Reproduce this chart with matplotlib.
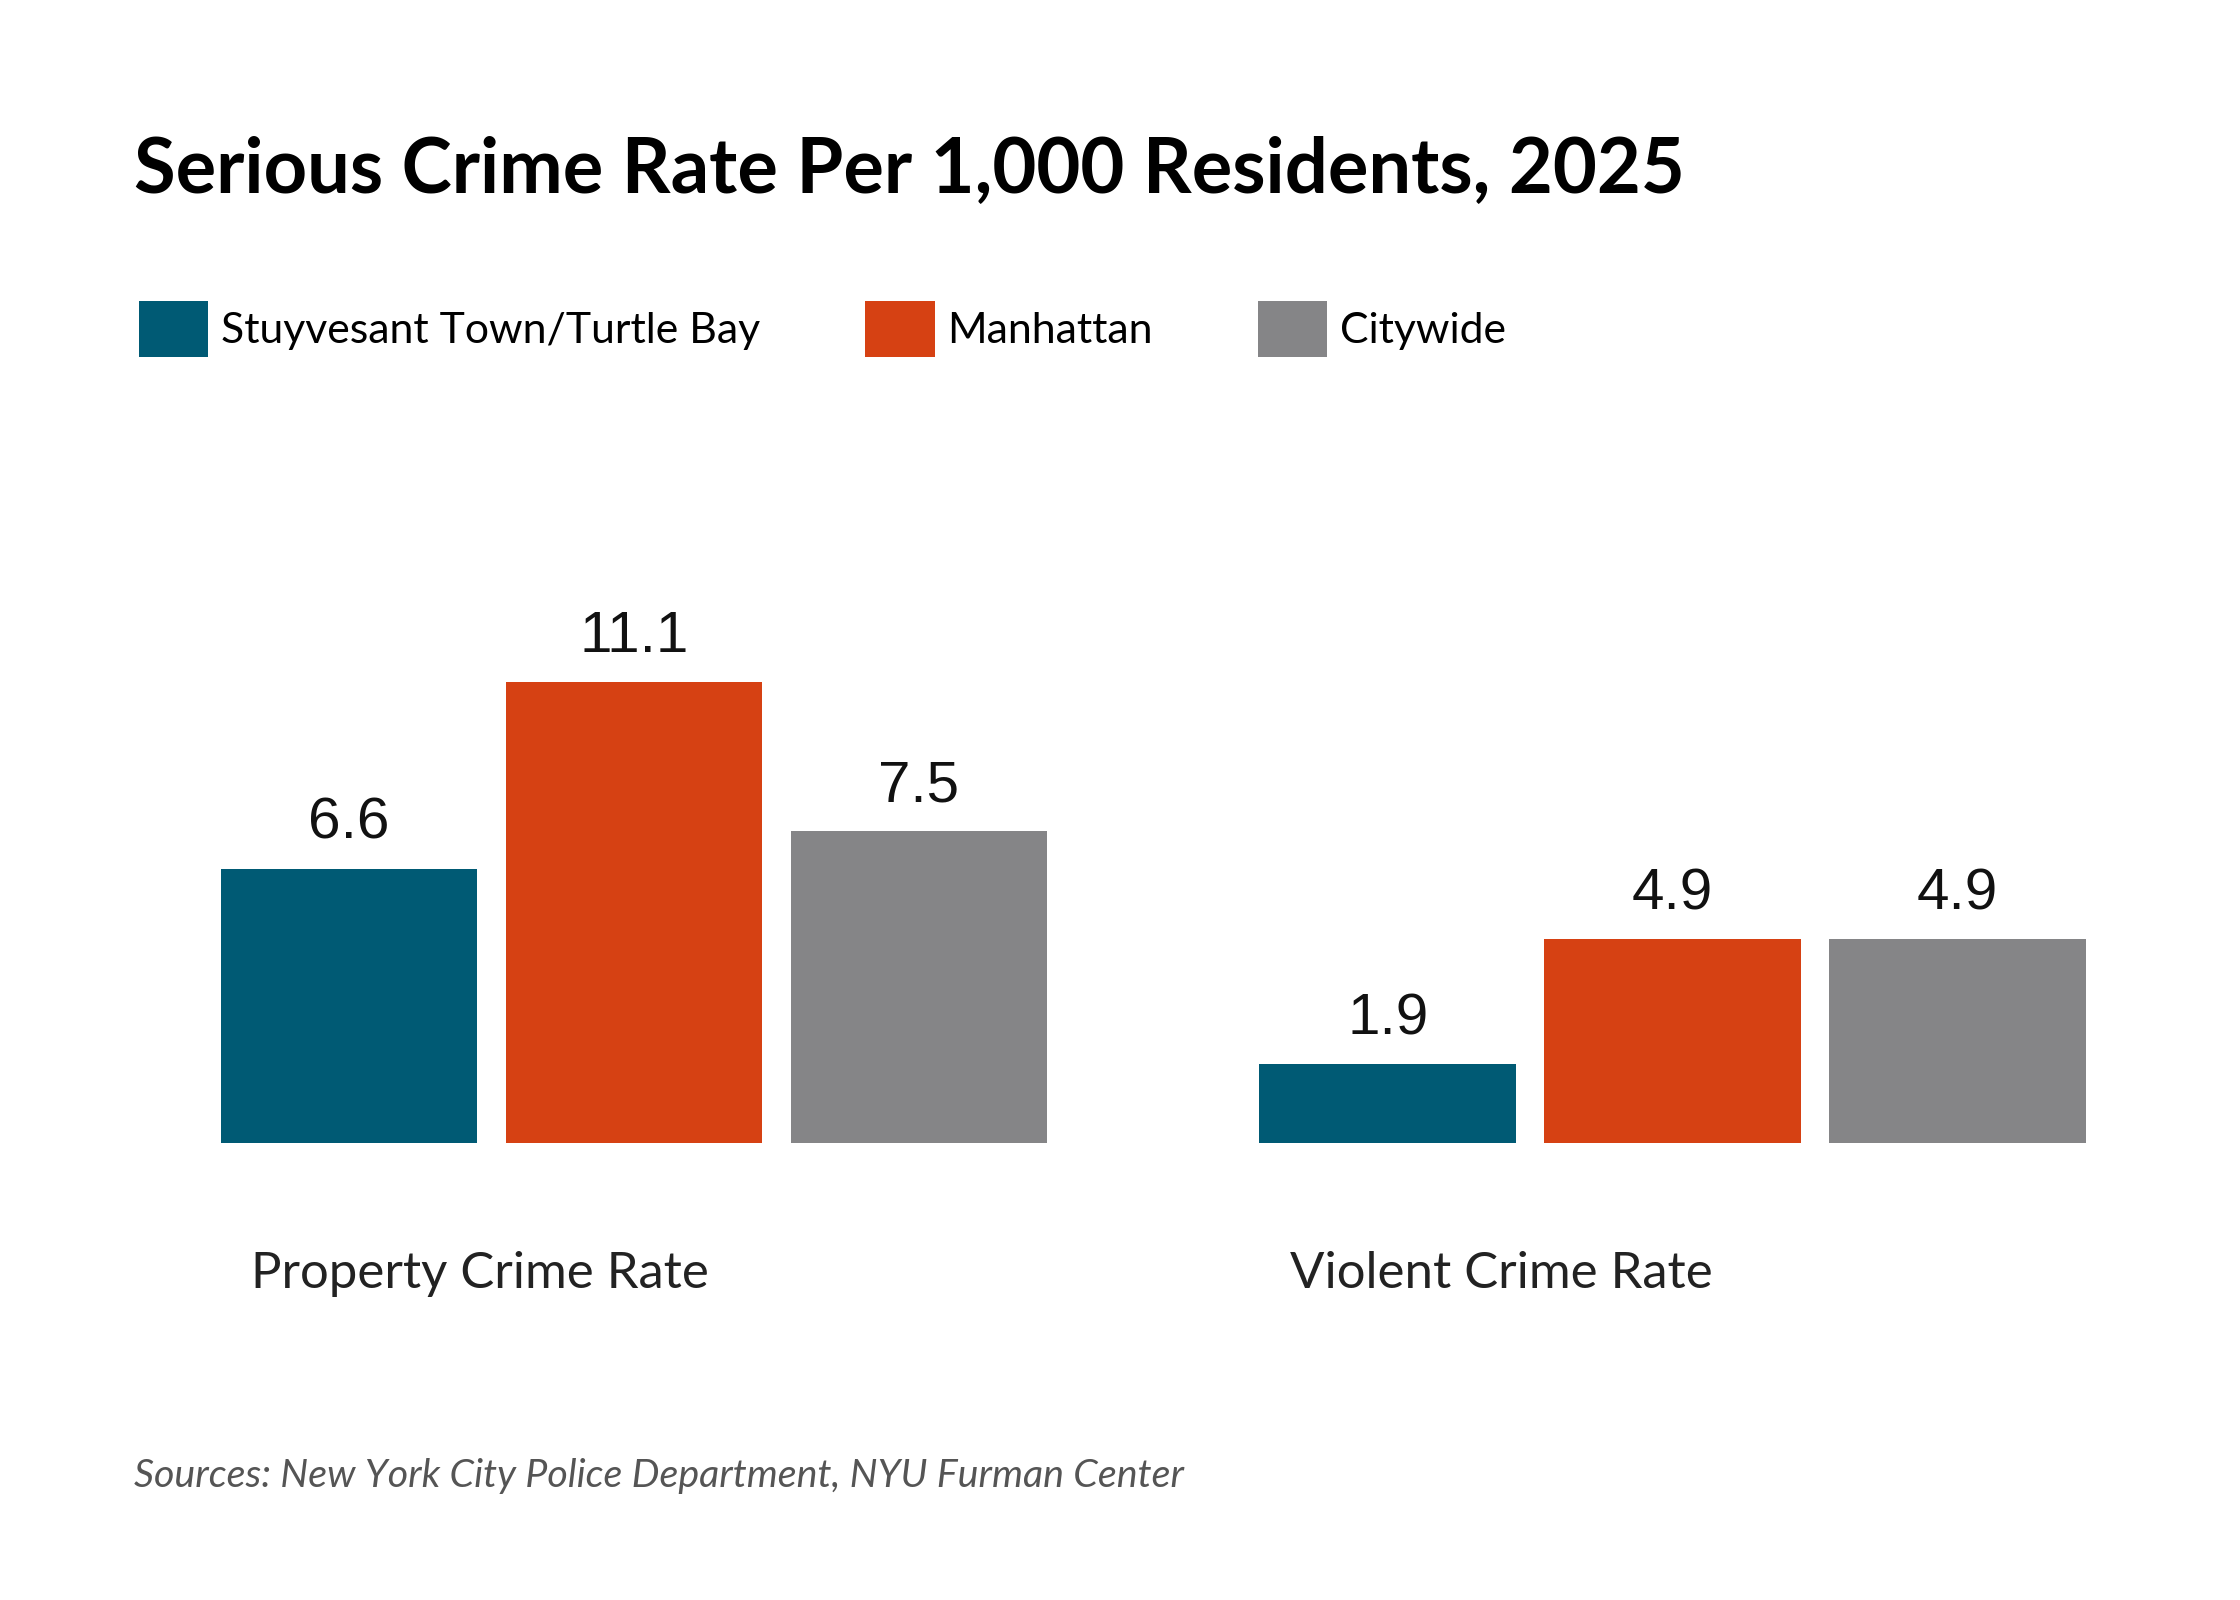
import numpy as np
import matplotlib
matplotlib.use("Agg")
import matplotlib.pyplot as plt

categories = ["Property Crime Rate", "Violent Crime Rate"]
series = ["Stuyvesant Town/Turtle Bay", "Manhattan", "Citywide"]
values = {
    "Stuyvesant Town/Turtle Bay": [6.6, 1.9],
    "Manhattan": [11.1, 4.9],
    "Citywide": [7.5, 4.9],
}
colors = ["#005a74", "#d64113", "#858587"]

title = "Serious Crime Rate Per 1,000 Residents, 2025"
source = "Sources: New York City Police Department, NYU Furman Center"

plt.rcParams['font.family'] = ['Lato', 'DejaVu Sans']

fig = plt.figure(figsize=(11.2, 8), dpi=200)
ax = fig.add_axes([0.0986, 0.2855, 0.8325, 0.3118])

group_gap = 3.646
bar_w = 0.901
centers = np.arange(len(categories)) * group_gap

handles = []
for i, name in enumerate(series):
    xs = centers + (i - 1)
    b = ax.bar(xs, values[name], width=bar_w, color=colors[i], label=name)
    handles.append(b)
    for x, v in zip(xs, values[name]):
        ax.annotate(f"{v}", (x, v), xytext=(0, 6.5), textcoords="offset points",
                    ha="center", va="bottom", fontsize=21,
                    family="Liberation Sans", color="#111111")

for c, cat in zip(centers, categories):
    ax.annotate(cat, (c - 1 - bar_w / 2, 0), xytext=(11, -47),
                textcoords="offset points", ha="left", va="center",
                fontsize=18.3, color="#222222")

ax.set_xlim(-1 - bar_w / 2, centers[-1] + 1 + bar_w / 2)
ax.set_ylim(0, 12)
ax.axis("off")

fig.text(134 / 2240, 1 - 193 / 1600, title, fontsize=27.3, fontweight="bold",
         va="baseline", ha="left", color="#000000")

fig.legend(handles=handles, labels=series, loc="center left",
           bbox_to_anchor=(0.0545, 1 - 329 / 1600), ncol=3, frameon=False,
           fontsize=15.4, handlelength=1.62, handleheight=1.62,
           handletextpad=0.3, columnspacing=2.45, borderaxespad=0)

fig.text(134 / 2240, 1 - 1487 / 1600, source, fontsize=14.2, style="italic",
         color="#555555", va="baseline", ha="left")

fig.savefig("out.png", dpi=200, facecolor="white")
